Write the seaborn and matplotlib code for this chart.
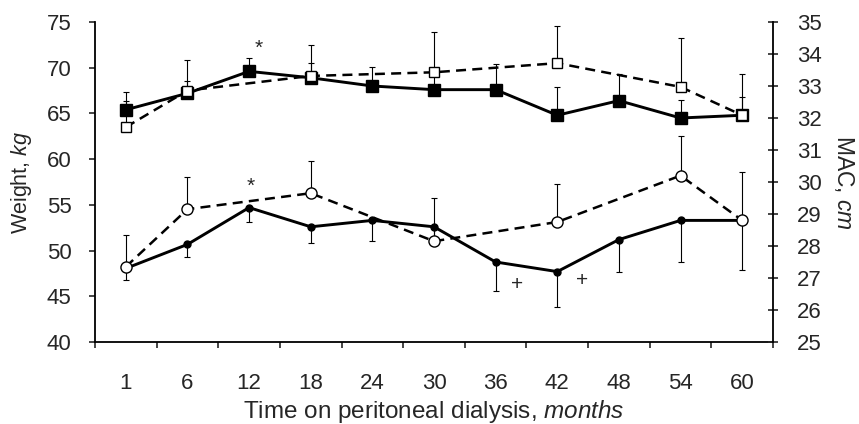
import numpy as np
import pandas as pd
import matplotlib.pyplot as plt
import seaborn as sns

# Months on the x axis (categorical)
months = [1, 6, 12, 18, 24, 30, 36, 42, 48, 54, 60]
# the dashed series were only measured at these months
dashed_months = [1, 6, 18, 30, 42, 54, 60]

# Weight, kg (squares)
weight_solid = [65.4, 67.2, 69.6, 68.9, 68.0, 67.6, 67.6, 64.8, 66.4, 64.5, 64.8]
weight_solid_err = [1.9, 1.3, 1.5, 1.65, 2.05, 1.5, 2.8, 3.1, 2.9, 2.0, 2.0]
weight_dashed = [63.5, 67.5, 69.1, 69.5, 70.5, 67.9, 64.8]
weight_dashed_err = [2.9, 3.35, 3.4, 4.4, 4.1, 5.35, 4.5]

# MAC, cm (circles)
mac_solid = [27.3, 28.05, 29.2, 28.6, 28.8, 28.6, 27.5, 27.2, 28.2, 28.8, 28.8]
mac_solid_err = [0.35, 0.4, 0.45, 0.5, 0.65, 0.45, 0.9, 1.1, 1.0, 1.3, 1.55]
mac_dashed = [27.35, 29.15, 29.65, 28.15, 28.75, 30.2, 28.8]
mac_dashed_err = [1.0, 1.0, 1.0, 1.35, 1.2, 1.25, 1.5]

sns.set_style("ticks")
plt.rcParams["font.family"] = ["Liberation Sans", "DejaVu Sans"]
plt.rcParams["mathtext.fontset"] = "custom"
plt.rcParams["mathtext.it"] = "Liberation Sans:italic"
plt.rcParams["mathtext.rm"] = "Liberation Sans"

pos = {m: i for i, m in enumerate(months)}
solid = pd.DataFrame({
    "pos": [pos[m] for m in months],
    "weight": weight_solid, "w_err": weight_solid_err,
    "mac": mac_solid, "m_err": mac_solid_err,
})
dashed = pd.DataFrame({
    "pos": [pos[m] for m in dashed_months],
    "weight": weight_dashed, "w_err": weight_dashed_err,
    "mac": mac_dashed, "m_err": mac_dashed_err,
})

fig, ax = plt.subplots(figsize=(8.59, 4.24), dpi=100)
fig.subplots_adjust(left=95 / 859, right=773 / 859, top=1 - 22 / 424, bottom=1 - 342 / 424)
ax2 = ax.twinx()

eb = dict(fmt="none", ecolor="black", elinewidth=0.8, capsize=2.5, capthick=0.8, zorder=1)
# squares: error bars upward
ax.errorbar(solid["pos"], solid["weight"], yerr=[np.zeros(len(solid)), solid["w_err"]], **eb)
ax.errorbar(dashed["pos"], dashed["weight"], yerr=[np.zeros(len(dashed)), dashed["w_err"]], **eb)
# circles: solid downward, dashed upward
ax2.errorbar(solid["pos"], solid["mac"], yerr=[solid["m_err"], np.zeros(len(solid))], **eb)
ax2.errorbar(dashed["pos"], dashed["mac"], yerr=[np.zeros(len(dashed)), dashed["m_err"]], **eb)

dash = (0, (4, 2.5))
sns.lineplot(data=solid, x="pos", y="weight", ax=ax, color="black", lw=2.1, marker="s",
             markersize=8, markerfacecolor="black", markeredgecolor="black",
             markeredgewidth=1, errorbar=None, zorder=3)
sns.lineplot(data=dashed, x="pos", y="weight", ax=ax, color="black", lw=1.8, linestyle=dash,
             marker="s", markersize=7.5, markerfacecolor="white", markeredgecolor="black",
             markeredgewidth=1, errorbar=None, zorder=4)
sns.lineplot(data=solid, x="pos", y="mac", ax=ax2, color="black", lw=2.1, marker="o",
             markersize=5, markerfacecolor="black", markeredgecolor="black",
             markeredgewidth=1, errorbar=None, zorder=3)
sns.lineplot(data=dashed, x="pos", y="mac", ax=ax2, color="black", lw=1.8, linestyle=dash,
             marker="o", markersize=8, markerfacecolor="white", markeredgecolor="black",
             markeredgewidth=1, errorbar=None, zorder=4)

# significance marks
ax.text(2.16, 72.1, "*", ha="center", va="center", fontsize=15)
ax.text(2.02, 57.0, "*", ha="center", va="center", fontsize=15)
ax.text(6.35, 46.3, "+", ha="center", va="center", fontsize=15)
ax.text(7.4, 46.7, "+", ha="center", va="center", fontsize=15)

ax.set_xlim(-0.5, 10.5)
ax.set_ylim(40, 75)
ax2.set_ylim(25, 35)
ax.set_yticks(range(40, 76, 5))
ax2.set_yticks(range(25, 36))
ax.set_xticks(range(len(months)))
ax.set_xticklabels(months)
ax.set_xticks(np.arange(-0.5, 11, 1), minor=True)

ax.tick_params(axis="x", which="major", length=0, pad=22, labelsize=16)
ax.tick_params(axis="x", which="minor", length=4, width=1.2, direction="out")
ax.tick_params(axis="y", length=4, width=1.2, direction="out", pad=13, labelsize=16)
ax2.tick_params(axis="y", length=7, width=1.2, direction="inout", pad=14, labelsize=16)

for a in (ax, ax2):
    a.spines["top"].set_visible(False)
    for s in a.spines.values():
        s.set_linewidth(1.3)
        s.set_color("black")
ax.spines["right"].set_visible(False)
ax2.spines["left"].set_visible(False)
ax2.spines["bottom"].set_visible(False)

ax.set_xlabel("Time on peritoneal dialysis, $\\mathit{months}$", fontsize=17.5, labelpad=3)
ax.set_ylabel("Weight, $\\mathit{kg}$", fontsize=15.5, labelpad=9)
ax2.set_ylabel("MAC, $\\mathit{cm}$", fontsize=16.5, rotation=270, labelpad=24)

fig.savefig("out.png", dpi=100)
